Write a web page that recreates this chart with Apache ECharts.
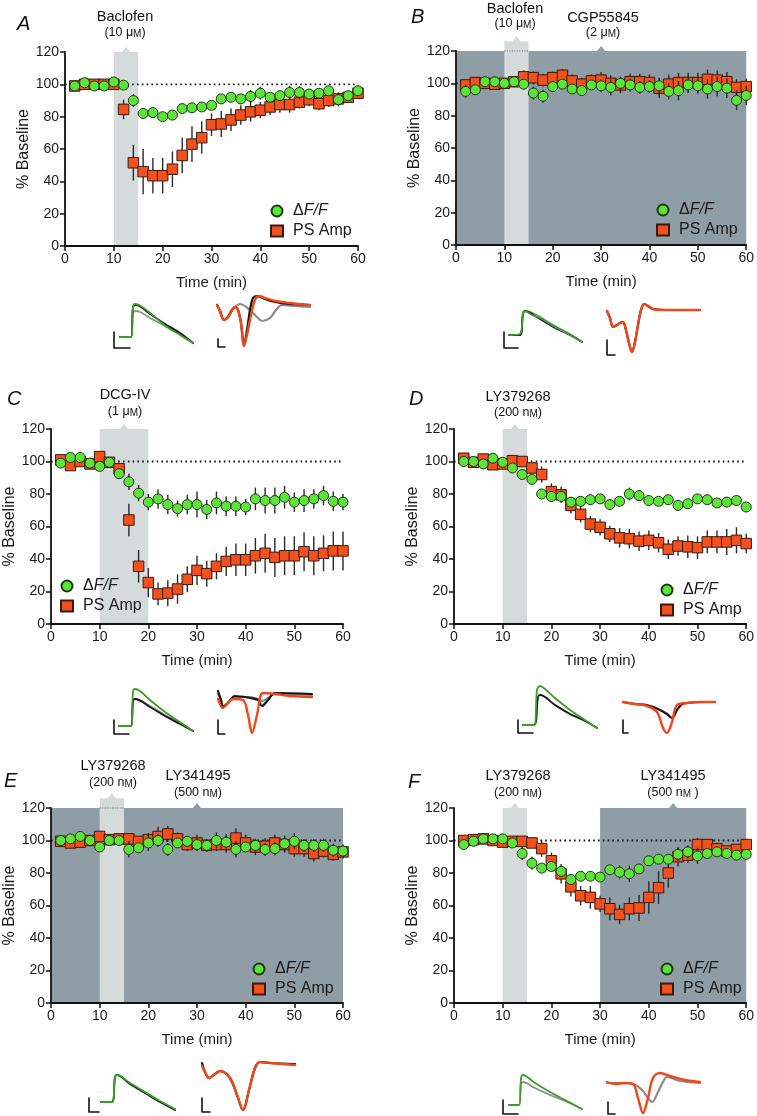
<!DOCTYPE html>
<html><head><meta charset="utf-8">
<script src="https://cdn.jsdelivr.net/npm/echarts@6/dist/echarts.min.js"></script>
<style>html,body{margin:0;padding:0;background:#fff}#c{width:757px;height:1116px}</style>
</head><body><div id="c"></div>
<script>
// ---------- DATA ----------
const times = [2,4,6,8,10,12,14,16,18,20,22,24,26,28,30,32,34,36,38,40,42,44,46,48,50,52,54,56,58,60];
const xTicks = [0,10,20,30,40,50,60];
const yTicks = [0,20,40,60,80,100,120];
const baselineLevel = 100;
const seriesNames = ['ΔF/F', 'PS Amp'];

const A_dff    = [99,101,99,99,101.5,99.5,90,82,82.5,80,81,85,85.5,86,87,91,92,91,92.5,94.5,92,93,95,95,94,94.5,96,90.5,93,96];
const A_dffErr = [1,1,1,1,1,1,4,3,2,2,3,2,2,2,2,2,2,3,4,4,3,3,4,4,3,3,3,4,3,3];
const A_ps     = [99,100,100,100,100,84.5,51.5,46,43.5,43.5,47.5,56,63,67,75,75.5,78,81,83,84,86,87.5,87.5,89,90.5,88,90,91,92,94.5];
const A_psErr  = [1,1,1,1,1,6,11,14,11,11,11,11,11,10,7,8,7,6,6,5,5,5,5,4,4,4,4,4,3,3];

const B_dff    = [95,96,101,101,100,101,99.5,94,92,98,99.5,96.5,95.5,99,98.5,97.5,100,99,97.5,98,98.5,95,95.5,99,98.5,96.5,98,97,89.5,92.5];
const B_dffErr = [4,3,2,2,3,2,3,4,4,3,3,3,3,3,4,5,4,4,4,4,5,5,6,5,5,6,6,6,6,6];
const B_ps     = [99,100.5,100,99.5,100,101,104,103.5,102,103.5,105,101.5,99.5,101.5,102,100,99,101,101,100.5,97,99.5,100.5,100.5,100.5,102.5,102,101,97.5,98];
const B_psErr  = [3,3,2,2,3,2,4,4,4,4,4,4,4,4,5,5,5,5,5,5,6,6,6,6,6,6,6,6,5,5];

const C_dff    = [99,102.5,102.5,99,97,99.5,92.5,87.5,80.5,75,77,73.5,71,73.5,73.5,70.5,74.5,72.5,72.5,72,77,76,76,78,75,76,77,79,75.5,75];
const C_dffErr = [2,2,2,2,2,2,3,5,5,5,6,6,5,6,8,6,7,6,6,5,7,8,8,7,6,7,6,6,6,5];
const C_ps     = [101,97.5,100,98.5,103,99.5,95.5,64,35.5,25.5,18.5,19,21.5,27.5,33,31,35.5,38.5,39.5,39.5,42,43.5,41,42,42,44.5,42,43.5,45,45];
const C_psErr  = [2,2,2,2,2,2,3,10,10,9,7,8,9,8,9,8,8,9,10,10,11,12,12,12,12,12,12,11,12,12];

const D_dff    = [100,100,98.5,102,99.5,96,92,89,80,78.5,78.5,75,75.5,76.5,77,73.5,75.5,80,79,76,75.5,76.5,73,74,77,76.5,74.5,75,76,72];
const D_dffErr = [1,1,1,1,1,2,2,3,2,3,3,3,3,3,3,3,3,4,2,2,2,2,3,3,3,3,2,3,3,2];
const D_ps     = [102,99.5,101.5,98,98.5,100.5,100,96,92,81.5,79.5,73,67.5,61.5,59.5,55.5,53,52.5,51,51.5,50,46,48,47.5,47,50.5,50.5,50.5,51.5,49.5];
const D_psErr  = [2,2,2,2,2,2,2,3,5,5,5,5,5,5,5,5,6,6,6,6,6,6,6,7,7,7,7,8,8,6];

const E_dff    = [100,101,102.5,100,96,100,100,94.5,95.5,98.5,100,94.5,98.5,99.5,97.5,97,100,99,94.5,96,97,94.5,95,98,99.5,97,97,97,94,93.5];
const E_dffErr = [2,2,2,2,2,2,2,5,3,5,4,4,3,3,4,3,5,5,5,3,4,4,4,5,5,4,4,4,4,4];
const E_ps     = [99.5,98.5,99,100,102.5,100.5,101,101,99.5,100.5,102.5,104,101,97.5,98.5,97,97.5,97.5,101.5,98.5,96,96.5,98.5,97.5,95,95,92,93.5,91.5,93];
const E_psErr  = [2,2,2,2,3,2,3,3,3,4,6,5,4,4,5,4,4,5,6,5,5,5,5,5,5,5,5,4,4,4];

const F_dff    = [97.5,99.5,101,101,101,98.5,92,86,83,84,81,76,78,78,77.5,82,80.5,79.5,82.5,87.5,88.5,88.5,91.5,93,90.5,92,93,92,91,91.5];
const F_dffErr = [1,1,1,1,1,1,4,4,2,3,3,3,2,2,2,2,4,5,3,3,3,3,4,4,5,3,3,3,3,3];
const F_ps     = [100,100.5,101,100,99,99.5,99.5,98.5,95,87.5,79.5,71.5,66,65,61,58,54.5,58,58.5,65,71,80,90,91,97.5,97.5,95,93.5,94.5,97.5];
const F_psErr  = [2,2,2,2,2,2,2,3,5,5,6,6,6,7,5,7,6,7,8,10,10,9,6,5,4,3,3,3,3,3];

// drug application periods: [start, end, top, kind(0 = continuous antagonist, 1 = agonist)]
const A_bands = [[10,15,120,1]];
const B_bands = [[0,60,120,0],[10,15,126,1]];
const C_bands = [[10,20,120,1]];
const D_bands = [[10,15,120,1]];
const E_bands = [[0,60,120,0],[10,15,126,1]];
const F_bands = [[10,15,120,1],[30,60,120,0]];

// example traces (arbitrary units: time, amplitude)
const A_fluorGray  = [[10,18],[21,18],[23,42],[26,44],[30,43],[40,37],[55,29],[70,21],[83,12]];
const A_fluorBlack = [[10,18],[21,18],[23,48],[26,50],[40,41],[55,31],[70,22],[83,12]];
const A_fluorGreen = [[10,18],[21,18],[23,48],[25,51],[29,50],[35,46],[45,38],[57,28],[70,20],[83,12]];
const A_psGray   = [[107,50],[110,44],[114,35],[118,38],[122,45],[125,48],[130,51],[140,45],[147,38],[152,34],[160,37],[166,45],[172,50],[185,49],[200,48]];
const A_psBlack  = [[107,50],[110,44],[114,35],[118,38],[122,45],[125,48],[128,45],[131,32],[134,10],[137,25],[140,45],[143,57],[147,59],[155,56],[165,53],[180,51],[200,50]];
const A_psOrange = [[107,50],[110,44],[114,35],[118,38],[122,45],[125,48],[128,45],[131,32],[134,9],[137,20],[141,40],[145,55],[149,59],[155,57],[165,54],[180,52],[200,50]];
const A_scaleFluor = [[4,23],[4,7],[20,7]];
const A_scalePS    = [[108,16],[108,8],[115,8]];

const B_fluorGray  = [[9,25],[20,25],[23,45],[25,49],[35,46],[45,40],[55,34],[70,26],[82,18]];
const B_fluorBlack = [[9,25],[20,25],[23,47],[25,49],[35,44],[45,38],[55,32],[70,25],[82,18]];
const B_fluorGreen = [[9,25],[20,26],[23,47],[25,49],[32,45],[40,42],[55,33],[70,25],[82,18]];
const B_psBlack  = [[107,49],[110,42],[113,33],[117,35],[120,37],[123,38],[126,30],[129,17],[132,8],[135,18],[138,35],[141,50],[144,56],[148,54],[153,51],[170,50],[200,50]];
const B_psOrange = [[107,49],[110,42],[113,33],[117,35],[120,37],[123,38],[126,30],[129,17],[132,8],[135,18],[138,35],[141,50],[144,56],[148,54],[153,51],[170,50],[200,50]];
const B_scaleFluor = [[4,28],[4,12],[18,12]];
const B_scalePS    = [[107,20],[107,5],[115,5]];

const C_fluorGray  = [[9,14],[21,14],[23,39],[25,41],[40,34],[55,25],[70,17],[83,9]];
const C_fluorBlack = [[9,14],[21,14],[23,39],[25,41],[40,33],[55,24],[70,16],[83,9]];
const C_fluorGreen = [[9,14],[21,14],[23,48],[25,51],[30,49],[40,40],[55,28],[70,18],[83,9]];
const C_psGray   = [[108,46],[111,40],[113,34],[118,37],[125,43],[140,43],[148,41],[152,39],[158,42],[165,46],[202,45]];
const C_psBlack  = [[108,49],[111,40],[113,33],[118,37],[125,44],[140,42],[148,40],[152,34],[158,40],[165,47],[202,46]];
const C_psOrange = [[108,41],[113,32],[118,37],[123,41],[133,40],[138,25],[142,7],[147,25],[153,47],[165,46],[180,44],[202,43]];
const C_scaleFluor = [[4,20],[4,6],[19,6]];
const C_scalePS    = [[108,20],[108,6],[115,6]];

const D_fluorBlack = [[13,15],[24,15],[28,43],[30,45],[45,35],[60,26],[75,19],[87,12]];
const D_fluorGreen = [[13,15],[24,15],[27,50],[30,54],[35,51],[45,42],[60,30],[75,20],[87,12]];
const D_psBlack  = [[113,38],[125,36],[137,35],[150,30],[157,26],[162,22],[167,30],[172,36],[177,37],[190,38],[205,38]];
const D_psOrange = [[113,38],[125,36],[137,34],[147,28],[153,12],[157,7],[162,18],[167,35],[177,37],[190,38],[205,38]];
const D_scaleFluor = [[8,20],[8,7],[23,7]];
const D_scalePS    = [[113,20],[113,7],[118,7]];

const E_fluorBlack = [[16,13],[27,13],[30,38],[32,40],[45,31],[60,22],[75,13],[90,5]];
const E_fluorGreen = [[16,13],[27,13],[30,38],[32,40],[45,32],[60,23],[75,14],[90,6]];
const E_psBlack  = [[117,52],[120,43],[124,37],[130,41],[135,44],[145,37],[152,20],[158,5],[164,25],[170,47],[175,53],[185,52],[210,51]];
const E_psOrange = [[117,49],[120,43],[124,37],[130,41],[135,44],[145,37],[152,20],[158,5],[164,25],[170,47],[175,53],[185,52],[210,50]];
const E_scaleFluor = [[4,17],[4,3],[14,3]];
const E_scalePS    = [[117,17],[117,3],[125,3]];

const F_fluorGray  = [[9,10],[19,10],[21,31],[23,33],[35,27],[50,20],[65,14],[82,6]];
const F_fluorGreen = [[9,10],[19,10],[21,37],[23,40],[35,32],[50,23],[65,15],[82,6]];
const F_psGray   = [[107,32],[120,32],[133,31],[142,25],[148,17],[152,13],[158,23],[163,33],[167,38],[180,34],[200,32]];
const F_psOrange = [[107,33],[115,31],[125,32],[133,31],[138,17],[143,2],[148,17],[153,37],[160,42],[170,39],[185,35],[200,33]];
const F_scaleFluor = [[3,15],[3,1],[18,1]];
const F_scalePS    = [[108,13],[108,1],[115,1]];

// ---------- STYLE / LAYOUT ----------
const FONT = '"Liberation Sans", Arial, Helvetica, sans-serif';
const GREEN = '#5ee23c', ORANGE = '#f2511d', LIGHT = '#d5dada', DARK = '#8f9ea6';
const TR = {gray:['#8e8e8e',1.8], black:['#151515',1.8], green:['#3c9e2a',1.8],
            pgray:['#8a8a8a',2.2], pblack:['#151515',2.2], orange:['#f0461a',2.4], scale:['#111',1.6]};

const panels = [
  {L:'A', dff:A_dff, de:A_dffErr, ps:A_ps, pe:A_psErr, bands:A_bands,
   grid:{left:65,top:52,width:293,height:194}, tgrid:{left:110,top:290},
   legend:{left:271,top:198},
   traces:[[A_fluorGray,'gray'],[A_fluorBlack,'black'],[A_fluorGreen,'green'],[A_psGray,'pgray'],[A_psBlack,'pblack'],[A_psOrange,'orange'],[A_scaleFluor,'scale'],[A_scalePS,'scale']]},
  {L:'B', dff:B_dff, de:B_dffErr, ps:B_ps, pe:B_psErr, bands:B_bands,
   grid:{left:456,top:51,width:291,height:194}, tgrid:{left:500,top:295},
   legend:{left:657,top:197},
   traces:[[B_fluorGray,'gray'],[B_fluorBlack,'black'],[B_fluorGreen,'green'],[B_psBlack,'pblack'],[B_psOrange,'orange'],[B_scaleFluor,'scale'],[B_scalePS,'scale']]},
  {L:'C', dff:C_dff, de:C_dffErr, ps:C_ps, pe:C_psErr, bands:C_bands,
   grid:{left:51,top:429,width:292,height:195}, tgrid:{left:110,top:675},
   legend:{left:61,top:573},
   traces:[[C_fluorGray,'gray'],[C_fluorBlack,'black'],[C_fluorGreen,'green'],[C_psGray,'pgray'],[C_psBlack,'pblack'],[C_psOrange,'orange'],[C_scaleFluor,'scale'],[C_scalePS,'scale']]},
  {L:'D', dff:D_dff, de:D_dffErr, ps:D_ps, pe:D_psErr, bands:D_bands,
   grid:{left:454,top:429,width:293,height:195}, tgrid:{left:510,top:675},
   legend:{left:661,top:577},
   traces:[[D_fluorBlack,'black'],[D_fluorGreen,'green'],[D_psBlack,'pblack'],[D_psOrange,'orange'],[D_scaleFluor,'scale'],[D_scalePS,'scale']]},
  {L:'E', dff:E_dff, de:E_dffErr, ps:E_ps, pe:E_psErr, bands:E_bands,
   grid:{left:51,top:808,width:292,height:195}, tgrid:{left:85,top:1050},
   legend:{left:253,top:956},
   traces:[[E_fluorBlack,'black'],[E_fluorGreen,'green'],[E_psBlack,'pblack'],[E_psOrange,'orange'],[E_scaleFluor,'scale'],[E_scalePS,'scale']]},
  {L:'F', dff:F_dff, de:F_dffErr, ps:F_ps, pe:F_psErr, bands:F_bands,
   grid:{left:454,top:808,width:293,height:195}, tgrid:{left:500,top:1050},
   legend:{left:661,top:956},
   traces:[[F_fluorGray,'gray'],[F_fluorGreen,'green'],[F_psGray,'pgray'],[F_psOrange,'orange'],[F_scaleFluor,'scale'],[F_scalePS,'scale']]}
];

const letterPos = [[17,25],[411,18],[7,400],[409,400],[4,782],[408,783]];
const texts = [
  // [text, x, y, size]
  ['Baclofen',125,17,14.5],['(10 μ{s|M})',125,33,12.5],
  ['Baclofen',515,9,14.5],['(10 μ{s|M})',515,24,12.5],['CGP55845',603,18,14.5],['(2 μ{s|M})',603,33,12.5],
  ['DCG-IV',125,395,14.5],['(1 μ{s|M})',125,412,12.5],
  ['LY379268',518,397,14.5],['(200 n{s|M})',518,413,12.5],
  ['LY379268',113,766,14.5],['(200 n{s|M})',113,783,12.5],['LY341495',198,776,14.5],['(500 n{s|M})',198,793,12.5],
  ['LY379268',518,776,14.5],['(200 n{s|M})',518,793,12.5],['LY341495',673,776,14.5],['(500 n{s|M} )',673,793,12.5]
];

function renderBand(params, api){
  const x1=api.value(0), x2=api.value(1), top=api.value(2), kind=api.value(3);
  const a=api.coord([x1,top]), b=api.coord([x2,0]);
  const fill = kind===0 ? DARK : LIGHT;
  const mx=(a[0]+b[0])/2;
  const ch=[
    {type:'rect',shape:{x:a[0],y:a[1],width:b[0]-a[0],height:b[1]-a[1]},style:{fill}},
    {type:'polygon',shape:{points:[[mx-4.5,a[1]+0.5],[mx,a[1]-5],[mx+4.5,a[1]+0.5]]},style:{fill}}
  ];
  const yMax = yTicks[yTicks.length-1];
  if (top > yMax){
    const c=api.coord([x1,yMax]), d=api.coord([x2,yMax]);
    ch.push({type:'line',shape:{x1:c[0],y1:c[1],x2:d[0],y2:d[1]},style:{stroke:'#666',lineWidth:1,lineDash:[1,1.5]}});
  }
  return {type:'group',children:ch};
}
function renderErr(params, api){
  const x=api.value(0), y=api.value(1), e=api.value(2);
  const p=api.coord([x,y-e]), q=api.coord([x,y+e]);
  return {type:'line',shape:{x1:p[0],y1:p[1],x2:q[0],y2:q[1]},style:{stroke:'#2a2a2a',lineWidth:1.4}};
}

const option = {animation:false, backgroundColor:'#fff', grid:[], xAxis:[], yAxis:[], series:[], legend:[], graphic:[]};
const axText = {fontFamily:FONT, fontSize:14, color:'#1a1a1a'};

panels.forEach((p,i)=>{
  option.grid.push(Object.assign({containLabel:false}, p.grid));
  option.xAxis.push({gridIndex:i, type:'value', min:xTicks[0], max:xTicks[xTicks.length-1], interval:xTicks[1]-xTicks[0], z:10,
    axisLine:{lineStyle:{color:'#111',width:1.8}}, axisTick:{length:5,lineStyle:{color:'#111',width:1.5}},
    splitLine:{show:false}, axisLabel:Object.assign({margin:6}, axText),
    name:'Time (min)', nameLocation:'middle', nameGap:29, nameTextStyle:{fontFamily:FONT,fontSize:15,color:'#1a1a1a'}});
  option.yAxis.push({gridIndex:i, type:'value', min:yTicks[0], max:yTicks[yTicks.length-1], interval:yTicks[1]-yTicks[0], z:10,
    axisLine:{lineStyle:{color:'#111',width:1.8}}, axisTick:{length:5,lineStyle:{color:'#111',width:1.5}},
    splitLine:{show:false}, axisLabel:Object.assign({margin:6}, axText),
    name:'% Baseline', nameLocation:'middle', nameGap:32, nameRotate:90, nameTextStyle:{fontFamily:FONT,fontSize:16,color:'#1a1a1a'}});
  option.series.push({type:'custom', xAxisIndex:i, yAxisIndex:i, renderItem:renderBand, data:p.bands, z:1, silent:true, clip:false, encode:{x:0,y:2}});
  option.series.push({type:'line', xAxisIndex:i, yAxisIndex:i, z:2, symbol:'none', silent:true,
    data:[[xTicks[0],baselineLevel],[xTicks[xTicks.length-1],baselineLevel]],
    lineStyle:{color:'#111',width:1.8,type:[1.6,3.2]}});
  option.series.push({type:'custom', xAxisIndex:i, yAxisIndex:i, z:3, renderItem:renderErr, clip:false, encode:{x:0,y:1},
    data:times.map((t,k)=>[t,p.ps[k],p.pe[k]])});
  option.series.push({type:'scatter', name:seriesNames[1], xAxisIndex:i, yAxisIndex:i, z:4, symbol:'rect', symbolSize:10.5,
    itemStyle:{color:ORANGE,borderColor:'#3a1a10',borderWidth:1,opacity:1}, data:times.map((t,k)=>[t,p.ps[k]])});
  option.series.push({type:'custom', xAxisIndex:i, yAxisIndex:i, z:5, renderItem:renderErr, clip:false, encode:{x:0,y:1},
    data:times.map((t,k)=>[t,p.dff[k],p.de[k]])});
  option.series.push({type:'scatter', name:seriesNames[0], xAxisIndex:i, yAxisIndex:i, z:6, symbol:'circle', symbolSize:10,
    itemStyle:{color:GREEN,borderColor:'#1c3a10',borderWidth:1,opacity:1}, data:times.map((t,k)=>[t,p.dff[k]])});
  option.legend.push({left:p.legend.left-6, top:p.legend.top, orient:'vertical', itemWidth:12, itemHeight:11, itemGap:4,
    selectedMode:false, data:seriesNames,
    formatter:n => n===seriesNames[0] ? '{n|Δ}{i|F/F}' : n,
    textStyle:{fontFamily:FONT, fontSize:16, color:'#1a1a1a', padding:[0,0,0,5],
      rich:{n:{fontFamily:FONT,fontSize:16,color:'#1a1a1a'}, i:{fontFamily:FONT,fontSize:16,fontStyle:'italic',color:'#1a1a1a'}}}});
});

panels.forEach((p,i)=>{
  const gi = panels.length + i;
  option.grid.push({left:p.tgrid.left, top:p.tgrid.top, width:220, height:65});
  option.xAxis.push({gridIndex:gi, type:'value', min:0, max:220, show:false});
  option.yAxis.push({gridIndex:gi, type:'value', min:0, max:65, show:false});
  p.traces.forEach(([d,k])=>{
    option.series.push({type:'line', xAxisIndex:gi, yAxisIndex:gi, data:d, symbol:'none', silent:true,
      smooth: k==='scale' ? false : 0.35, z: 3,
      lineStyle:{color:TR[k][0], width:TR[k][1], cap:'round', join:'round'}});
  });
});

panels.forEach((p,i)=>{
  option.graphic.push({type:'text', left:letterPos[i][0], top:letterPos[i][1]-11,
    style:{text:p.L, font:'italic 20px '+FONT, fill:'#111'}});
});
texts.forEach(([t,x,y,s])=>{
  option.graphic.push({type:'text', x:x, y:y,
    style:{text:t, fontFamily:FONT, fontSize:s, fill:'#111', align:'center', verticalAlign:'middle',
      rich:{s:{fontFamily:FONT, fontSize:Math.round(s*0.78), fill:'#111', verticalAlign:'bottom'}}}});
});

const chart = echarts.init(document.getElementById('c'), null, {renderer:'canvas'});
chart.setOption(option);
</script></body></html>
